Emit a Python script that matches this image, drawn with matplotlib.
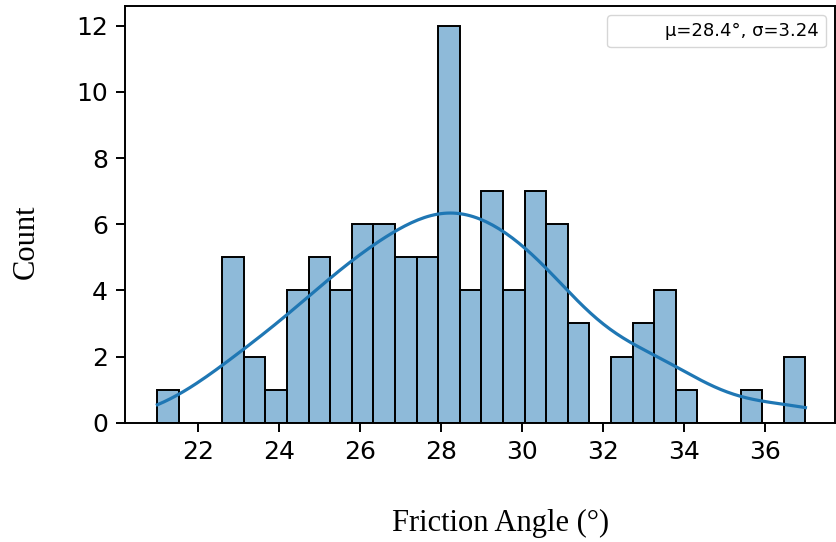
import numpy as np
import matplotlib
matplotlib.use('Agg')
import matplotlib.pyplot as plt
import seaborn as sns
from matplotlib.lines import Line2D

# histogram: 30 bins between 21 and 37
bin_start = 21.0
bin_stop = 37.0
n_bins = 30
counts = [1, 0, 0, 5, 2, 1, 4, 5, 4, 6,
          6, 5, 5, 12, 4, 7, 4, 7, 6, 3,
          0, 2, 3, 4, 1, 0, 0, 1, 0, 2]
legend_text = 'μ=28.4°, σ=3.24'
x_label = 'Friction Angle (°)'
y_label = 'Count'
x_ticks = [22, 24, 26, 28, 30, 32, 34, 36]
y_ticks = [0, 2, 4, 6, 8, 10, 12]

edges = np.linspace(bin_start, bin_stop, n_bins + 1)
centers = (edges[:-1] + edges[1:]) / 2
samples = np.repeat(centers, counts)

fig = plt.figure(figsize=(8.37, 5.42), dpi=100)
ax = fig.add_axes([125 / 837, 119.3 / 542, 710 / 837, 416.7 / 542])

sns.histplot(samples, bins=edges, kde=True, ax=ax, color='#1f77b4',
             alpha=0.5, edgecolor='black', linewidth=1.4,
             kde_kws={'cut': 3, 'clip': (bin_start, bin_stop)},
             line_kws={'lw': 2.3})

ax.set_xlim(20.2, 37.73)
ax.set_ylim(0, 12.6)
ax.set_xticks(x_ticks)
ax.set_yticks(y_ticks)
ax.tick_params(labelsize=18, length=6.3, width=1.4, pad=6)
for s in ax.spines.values():
    s.set_linewidth(1.4)

ax.set_xlabel(x_label, family='Liberation Serif', fontsize=22, va='baseline')
ax.xaxis.set_label_coords(0.5293, -0.2599)
ax.set_ylabel(y_label, family='Liberation Serif', fontsize=22, va='baseline')
ax.yaxis.set_label_coords(-0.1292, 0.4349)

blank = Line2D([], [], linestyle='none')
ax.legend([blank], [legend_text], loc='upper right', fontsize=13)

fig.savefig('out.png', dpi=100)
